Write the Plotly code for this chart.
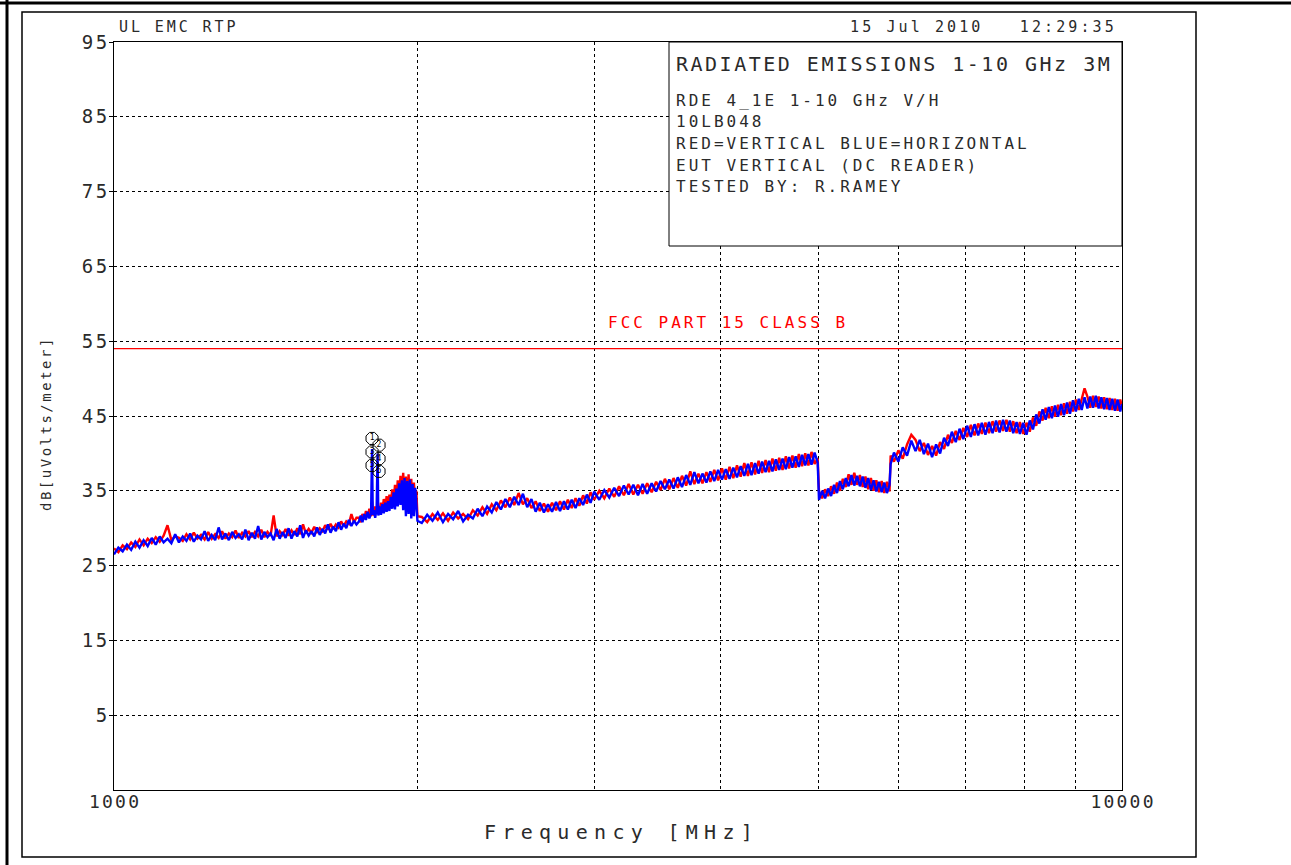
import plotly.graph_objects as go

# ---------------- data ----------------
FREQ_MHZ = [
    # 1000 - 1740 MHz
    1000, 1010, 1020, 1030, 1040, 1050, 1060, 1070, 1080, 1090,
    1100, 1110, 1120, 1130, 1140, 1150, 1160, 1170, 1180, 1190,
    1200, 1210, 1220, 1230, 1240, 1250, 1260, 1270, 1280, 1290,
    1300, 1310, 1320, 1330, 1340, 1350, 1360, 1370, 1380, 1390,
    1400, 1410, 1420, 1430, 1440, 1450, 1460, 1470, 1480, 1490,
    1500, 1510, 1520, 1530, 1540, 1550, 1560, 1570, 1580, 1590,
    1600, 1610, 1620, 1630, 1640, 1650, 1660, 1670, 1680, 1690,
    1700, 1710, 1720, 1730, 1740,
    # 1750 - 2000 MHz
    1750, 1757, 1764, 1771, 1778, 1785, 1792, 1799, 1803, 1806,
    1810, 1816, 1822, 1826, 1829, 1834, 1840, 1846, 1852, 1858,
    1864, 1870, 1876, 1882, 1888, 1894, 1900, 1906, 1912, 1918,
    1924, 1930, 1936, 1942, 1948, 1954, 1960, 1966, 1972, 1978,
    1984, 1990, 1995, 2000,
    # 2020 - 2995 MHz
    2020, 2045, 2070, 2095, 2120, 2145, 2170, 2195, 2220, 2245,
    2270, 2295, 2320, 2345, 2370, 2395, 2420, 2445, 2470, 2495,
    2520, 2545, 2570, 2595, 2620, 2645, 2670, 2695, 2720, 2745,
    2770, 2795, 2820, 2845, 2870, 2895, 2920, 2945, 2970, 2995,
    # 3030 - 4990 MHz
    3030, 3065, 3100, 3135, 3170, 3205, 3240, 3275, 3310, 3345,
    3380, 3415, 3450, 3485, 3520, 3555, 3590, 3625, 3660, 3695,
    3730, 3765, 3800, 3835, 3870, 3905, 3940, 3975, 4010, 4045,
    4080, 4115, 4150, 4185, 4220, 4255, 4290, 4325, 4360, 4395,
    4430, 4465, 4500, 4535, 4570, 4605, 4640, 4675, 4710, 4745,
    4780, 4815, 4850, 4885, 4920, 4955, 4990,
    # 5005 - 5880 MHz
    5005, 5040, 5075, 5110, 5145, 5180, 5215, 5250, 5285, 5320,
    5355, 5390, 5425, 5460, 5495, 5530, 5565, 5600, 5635, 5670,
    5705, 5740, 5775, 5810, 5845, 5880,
    # 5895 - 10000 MHz
    5895, 5940, 6000, 6060, 6120, 6180, 6240, 6300, 6360, 6420,
    6480, 6540, 6600, 6660, 6720, 6780, 6840, 6900, 6960, 7020,
    7080, 7140, 7200, 7260, 7320, 7380, 7440, 7500, 7560, 7620,
    7680, 7740, 7800, 7860, 7920, 7980, 8040, 8100, 8160, 8220,
    8280, 8340, 8400, 8460, 8520, 8580, 8640, 8700, 8760, 8820,
    8880, 8940, 9000, 9060, 9120, 9180, 9240, 9300, 9360, 9420,
    9480, 9540, 9600, 9660, 9720, 9780, 9840, 9900, 9960, 10000,
]

# RED = VERTICAL polarisation  (dBuV/m)
RED_V_DB = [
    27.3, 26.8, 27.7, 27.2, 28.1, 27.5, 28.5, 27.7, 28.6, 28.0,
    28.8, 28.2, 29.0, 30.4, 28.4, 28.9, 28.7, 28.3, 29.2, 28.5,
    29.4, 28.6, 29.1, 28.5, 29.5, 28.6, 29.2, 28.7, 29.6, 28.6,
    29.3, 28.8, 29.7, 28.7, 29.4, 28.9, 29.6, 28.8, 29.5, 28.9,
    29.8, 28.8, 29.5, 29.0, 31.7, 28.9, 29.6, 29.1, 29.9, 29.0,
    29.7, 29.1, 30.0, 29.2, 30.5, 29.3, 29.9, 29.4, 30.2, 29.5,
    30.0, 29.6, 30.4, 29.8, 30.6, 29.9, 30.5, 30.1, 30.9, 30.3,
    30.9, 30.6, 31.9, 30.8, 31.4,
    31.4, 30.8, 31.9, 31.2, 32.3, 31.5, 32.6, 31.6, 33.6, 32.2,
    31.7, 32.9, 31.9, 33.2, 32.5, 32.0, 33.4, 32.3, 33.9, 32.5,
    34.3, 32.7, 34.5, 33.0, 35.2, 33.1, 35.8, 33.4, 36.4, 33.6,
    37.0, 33.8, 37.4, 33.2, 36.9, 32.8, 37.2, 32.6, 36.6, 32.4,
    36.1, 32.9, 35.0, 31.6,
    31.5, 30.8, 31.9, 31.1, 32.0, 31.0, 32.1, 31.3, 31.9, 31.2,
    32.4, 31.7, 32.8, 31.9, 33.2, 32.4, 33.7, 32.8, 34.1, 33.1,
    34.7, 33.2, 34.0, 32.7, 33.6, 32.3, 33.3, 32.2, 33.4, 32.4,
    33.6, 32.5, 33.8, 32.7, 34.0, 33.0, 34.4, 33.3, 34.8, 33.8,
    35.0, 34.0, 35.3, 34.2, 35.6, 34.4, 35.9, 34.5, 35.8, 34.6,
    36.0, 34.8, 36.2, 35.1, 36.6, 35.2, 36.7, 35.4, 37.0, 35.7,
    37.6, 35.9, 37.3, 36.0, 37.5, 36.2, 37.8, 36.4, 38.0, 36.5,
    38.2, 36.7, 38.4, 36.9, 38.7, 37.0, 38.8, 37.2, 39.0, 37.4,
    39.1, 37.5, 39.3, 37.7, 39.4, 37.8, 39.6, 38.0, 39.7, 38.1,
    39.9, 38.3, 40.0, 38.4, 40.2, 38.6, 39.3,
    34.9, 34.0, 35.2, 34.3, 35.6, 34.6, 36.1, 35.0, 36.6, 35.5,
    37.2, 35.8, 37.4, 35.8, 37.1, 35.5, 36.9, 35.2, 36.7, 35.0,
    36.4, 34.8, 36.3, 34.7, 36.2, 34.9,
    39.7, 38.9, 40.4, 39.3, 41.2, 42.5, 41.8, 40.3, 41.4, 39.8,
    41.0, 39.7, 41.5, 40.6, 42.5, 41.4, 43.0, 41.8, 43.4, 42.2,
    43.8, 42.4, 44.0, 42.6, 44.1, 42.7, 44.3, 42.9, 44.4, 43.0,
    44.5, 42.9, 44.3, 42.7, 44.2, 42.6, 44.1, 42.9, 44.8, 43.7,
    45.6, 44.4, 46.1, 44.7, 46.3, 44.9, 46.5, 45.1, 46.7, 45.3,
    46.9, 45.6, 47.2, 45.8, 47.4, 48.7, 47.6, 46.1, 47.7, 46.2,
    47.6, 46.0, 47.5, 45.9, 47.4, 45.8, 47.3, 45.7, 47.2, 46.2,
]

# BLUE = HORIZONTAL polarisation  (dBuV/m)
BLUE_H_DB = [
    26.5, 27.4, 26.9, 27.8, 27.1, 28.2, 27.4, 28.4, 27.6, 28.7,
    27.8, 28.9, 28.1, 28.6, 28.0, 29.2, 28.1, 28.9, 28.3, 29.3,
    28.2, 29.0, 28.5, 29.6, 28.3, 29.1, 28.4, 30.1, 28.5, 29.3,
    28.4, 29.5, 28.7, 29.2, 28.5, 29.8, 28.4, 29.4, 28.6, 30.3,
    28.5, 29.5, 28.8, 29.3, 28.4, 29.9, 28.6, 29.5, 28.7, 30.0,
    28.6, 29.6, 28.9, 30.4, 28.7, 29.7, 29.0, 29.6, 28.9, 30.1,
    29.1, 29.9, 29.3, 30.5, 29.4, 30.2, 29.6, 30.8, 29.8, 30.6,
    30.0, 31.1, 30.3, 31.0, 30.5,
    30.9, 31.7, 30.8, 31.9, 31.1, 32.2, 31.3, 32.0, 40.6, 31.8,
    32.4, 31.4, 32.6, 40.0, 31.7, 32.9, 31.8, 33.2, 32.0, 33.4,
    32.2, 33.6, 32.3, 34.2, 32.6, 34.8, 32.5, 35.3, 32.9, 36.0,
    33.1, 36.4, 32.4, 36.7, 31.6, 36.3, 31.9, 36.5, 31.3, 35.9,
    31.6, 35.4, 32.2, 31.0,
    30.7, 31.8, 31.0, 32.1, 30.8, 31.9, 31.2, 32.3, 30.9, 31.8,
    31.3, 32.6, 31.6, 32.9, 32.1, 33.5, 32.5, 33.9, 32.8, 34.2,
    33.1, 34.6, 32.8, 33.9, 32.2, 33.4, 32.1, 33.2, 32.2, 33.5,
    32.3, 33.6, 32.5, 33.8, 32.7, 34.0, 33.1, 34.5, 33.4, 34.9,
    33.8, 35.1, 34.1, 35.4, 34.3, 35.7, 34.5, 35.8, 34.4, 35.9,
    34.6, 36.0, 34.9, 36.3, 35.2, 36.5, 35.3, 36.8, 35.5, 37.1,
    35.8, 37.5, 36.0, 37.3, 36.1, 37.6, 36.3, 37.8, 36.5, 37.9,
    36.6, 38.1, 36.8, 38.3, 37.0, 38.6, 37.1, 38.7, 37.3, 38.9,
    37.5, 39.0, 37.6, 39.2, 37.8, 39.3, 37.9, 39.5, 38.1, 39.6,
    38.2, 39.8, 38.4, 39.9, 38.5, 40.1, 38.8,
    33.8, 35.0, 34.0, 35.3, 34.3, 35.8, 34.7, 36.3, 35.2, 36.7,
    35.6, 37.1, 35.7, 37.0, 35.6, 36.9, 35.4, 36.7, 35.1, 36.4,
    34.9, 36.2, 34.8, 36.1, 34.7, 35.8,
    38.6, 40.1, 38.9, 40.8, 39.7, 41.7, 40.3, 41.8, 39.9, 41.3,
    39.5, 41.2, 40.0, 42.1, 41.0, 42.9, 41.5, 43.3, 41.9, 43.7,
    42.2, 43.9, 42.4, 44.1, 42.5, 44.2, 42.7, 44.4, 42.8, 44.5,
    42.9, 44.4, 42.7, 44.2, 42.6, 44.1, 42.5, 44.4, 43.2, 45.2,
    44.0, 45.9, 44.5, 46.2, 44.7, 46.4, 44.9, 46.6, 45.1, 46.8,
    45.3, 47.1, 45.6, 47.3, 45.8, 47.5, 46.0, 47.6, 46.1, 47.7,
    46.0, 47.5, 45.9, 47.4, 45.8, 47.3, 45.7, 47.2, 45.6, 46.6,
]

LIMIT_FREQ = [1000, 10000]
LIMIT_DB = [54, 54]
LIMIT_NAME = "FCC PART 15 CLASS B"

MARKER_FREQ = [1803, 1832, 1803, 1832, 1803, 1832]
MARKER_DB = [42.0, 41.1, 40.2, 39.3, 38.4, 37.6]
MARKER_LABELS = ["1", "2", "3", "4", "5", "6"]

Y_TICKS = [5, 15, 25, 35, 45, 55, 65, 75, 85, 95]
X_GRID = [1000, 2000, 3000, 4000, 5000, 6000, 7000, 8000, 9000, 10000]
X_LABELS = ["1000", "", "", "", "", "", "", "", "", "10000"]

HEADER_LEFT = "UL EMC RTP"
HEADER_RIGHT = "15 Jul 2010\u00a0\u00a0\u00a012:29:35"
BOX_TITLE = "RADIATED EMISSIONS 1-10 GHz 3M"
BOX_LINES = [
    "RDE 4_1E 1-10 GHz V/H",
    "10LB048",
    "RED=VERTICAL BLUE=HORIZONTAL",
    "EUT VERTICAL (DC READER)",
    "TESTED BY: R.RAMEY",
]
X_TITLE = "Frequency [MHz]"
Y_TITLE = "dB[uVolts/meter]"

assert len(FREQ_MHZ) == len(RED_V_DB) == len(BLUE_H_DB), (
    len(FREQ_MHZ), len(RED_V_DB), len(BLUE_H_DB))

# ---------------- styling ----------------
FONT = "DejaVu Sans Mono"
INK = "#2a2a2a"

W, H = 1291, 865
L, R, T, B = 114, 1122, 42, 790  # plot area in pixels


def px_x(px):
    return (px - L) / (R - L)


def px_y(py):
    return (B - py) / (B - T)


def spaced(text, ls):
    # letter-spacing on all but the last glyph (no trailing gap)
    if len(text) < 2:
        return text
    return f'<span style="letter-spacing:{ls}px">{text[:-1]}</span>{text[-1]}'


fig = go.Figure()

fig.add_trace(go.Scatter(x=LIMIT_FREQ, y=LIMIT_DB, mode="lines",
                         line=dict(color="#ff0000", width=1.3),
                         hoverinfo="skip", name=LIMIT_NAME))
fig.add_trace(go.Scatter(x=FREQ_MHZ, y=RED_V_DB, mode="lines",
                         line=dict(color="#ff0000", width=2.4), name="Vertical"))
fig.add_trace(go.Scatter(x=FREQ_MHZ, y=BLUE_H_DB, mode="lines",
                         line=dict(color="#0000ff", width=2.4), name="Horizontal"))
fig.add_trace(go.Scatter(x=MARKER_FREQ, y=MARKER_DB, mode="markers+text",
                         marker=dict(symbol="octagon-open", size=13,
                                     color="#000000", line=dict(width=1)),
                         text=MARKER_LABELS, textposition="middle center",
                         textfont=dict(family=FONT, size=8, color="#000000"),
                         name="markers"))

tickfont = dict(family=FONT, size=19, color=INK)

fig.update_layout(
    width=W, height=H, autosize=False,
    margin=dict(l=L, r=W - R, t=T, b=H - B, pad=0),
    paper_bgcolor="white", plot_bgcolor="white",
    showlegend=False,
    font=dict(family=FONT, color=INK),
    xaxis=dict(
        type="log", range=[3, 4],
        tickvals=X_GRID, ticktext=[spaced(t, 2.2) if t else "" for t in X_LABELS],
        tickfont=dict(family=FONT, size=18, color=INK), ticks="",
        ticklabelstandoff=-5,
        showgrid=True, gridcolor="#000000", gridwidth=1, griddash="3px,3px",
        showline=True, linecolor="#000000", linewidth=1, mirror=True,
        zeroline=False,
    ),
    yaxis=dict(
        range=[-5, 95],
        tickvals=Y_TICKS, ticktext=[spaced(str(v), 2.5) for v in Y_TICKS],
        tickfont=tickfont, ticks="outside", ticklen=4, tickcolor="#000000",
        ticklabelstandoff=-2,
        showgrid=True, gridcolor="#000000", gridwidth=1, griddash="3px,3px",
        showline=True, linecolor="#000000", linewidth=1, mirror=True,
        zeroline=False,
    ),
)

shapes = [
    # info box (covers grid)
    dict(type="rect", xref="paper", yref="paper",
         x0=px_x(669), x1=1.0, y0=px_y(246), y1=1.0,
         line=dict(color="#000000", width=1), fillcolor="white", layer="above"),
    # inner page frame
    dict(type="rect", xref="paper", yref="paper",
         x0=px_x(22), x1=px_x(1196), y0=px_y(857), y1=px_y(12),
         line=dict(color="#000000", width=1.5), fillcolor="rgba(0,0,0,0)"),
    # outer thick frame lines
    dict(type="line", xref="paper", yref="paper",
         x0=px_x(0), x1=px_x(W), y0=px_y(3), y1=px_y(3),
         line=dict(color="#000000", width=3)),
    dict(type="line", xref="paper", yref="paper",
         x0=px_x(7), x1=px_x(7), y0=px_y(0), y1=px_y(H),
         line=dict(color="#000000", width=3)),
]
fig.update_layout(shapes=shapes)

ann = []
ann.append(dict(text=spaced(HEADER_LEFT, 2.9), x=px_x(117), y=px_y(27),
                xanchor="left", yanchor="middle",
                font=dict(family=FONT, size=15, color=INK)))
ann.append(dict(text=spaced(HEADER_RIGHT, 3.1), x=px_x(1116), y=px_y(27),
                xanchor="right", yanchor="middle",
                font=dict(family=FONT, size=15, color=INK)))
ann.append(dict(text=spaced(BOX_TITLE, 2.5), x=px_x(674), y=px_y(64),
                xanchor="left", yanchor="middle",
                font=dict(family=FONT, size=20, color=INK)))
for line, ypx in zip(BOX_LINES, [101, 122, 143, 165, 186]):
    ann.append(dict(text=spaced(line, 3), x=px_x(674), y=px_y(ypx),
                    xanchor="left", yanchor="middle",
                    font=dict(family=FONT, size=16, color=INK)))
ann.append(dict(text=spaced(LIMIT_NAME, 3), x=px_x(606), y=px_y(323),
                xanchor="left", yanchor="middle",
                font=dict(family=FONT, size=16, color="#ff0000")))
ann.append(dict(text=spaced(X_TITLE, 6.3), x=px_x(618), y=px_y(832),
                xanchor="center", yanchor="middle",
                font=dict(family=FONT, size=20, color=INK)))
ann.append(dict(text=spaced(Y_TITLE, 2.5), x=px_x(46), y=px_y(425),
                xanchor="center", yanchor="middle", textangle=-90,
                font=dict(family=FONT, size=14, color=INK)))
for a in ann:
    a.update(xref="paper", yref="paper", showarrow=False)
fig.update_layout(annotations=ann)

fig.write_html(
    "out.html",
    config={"displayModeBar": False},
    post_script="document.body.style.margin='0';document.body.style.overflow='hidden';",
)
